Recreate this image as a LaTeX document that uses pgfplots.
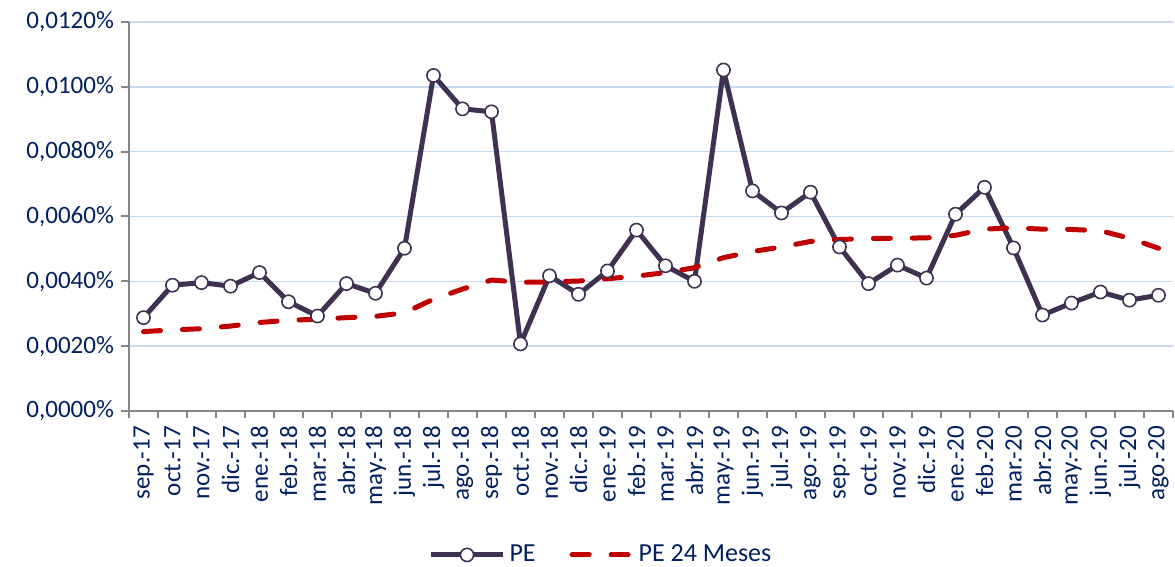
\documentclass[border=0pt]{standalone}
\usepackage{pgfplots}
\pgfplotsset{compat=1.18}
\usepackage{fontspec}
\setmainfont{Carlito}
\definecolor{peline}{RGB}{63,49,81}
\definecolor{pered}{RGB}{192,0,0}
\definecolor{navy}{RGB}{0,32,96}
\definecolor{gridblue}{RGB}{197,217,241}
\definecolor{axgray}{RGB}{134,134,134}

\pgfplotstableread{
x pe
0 0.00288
1 0.00388
2 0.00396
3 0.00385
4 0.00427
5 0.00337
6 0.00293
7 0.00393
8 0.00363
9 0.00502
10 0.01035
11 0.00932
12 0.00923
13 0.00207
14 0.00417
15 0.00360
16 0.00432
17 0.00558
18 0.00448
19 0.00400
20 0.01052
21 0.00679
22 0.00611
23 0.00675
24 0.00506
25 0.00393
26 0.00450
27 0.00410
28 0.00607
29 0.00690
30 0.00503
31 0.00296
32 0.00333
33 0.00367
34 0.00342
35 0.00357
}\petable

\pgfplotstableread{
x pe24
0 0.00245
1 0.00250
2 0.00254
3 0.00262
4 0.00273
5 0.00280
6 0.00283
7 0.00288
8 0.00292
9 0.00303
10 0.00345
11 0.00376
12 0.00404
13 0.00397
14 0.00398
15 0.00401
16 0.00408
17 0.00416
18 0.00427
19 0.00442
20 0.00473
21 0.00492
22 0.00506
23 0.00523
24 0.00529
25 0.00532
26 0.00533
27 0.00534
28 0.00542
29 0.00561
30 0.00565
31 0.00561
32 0.00560
33 0.00556
34 0.00533
35 0.00502
}\pettable

\begin{document}
\begin{tikzpicture}
\useasboundingbox (-64.5pt,-78pt) rectangle (523pt,205.5pt);
\begin{axis}[
  at={(0pt,0pt)}, anchor=south west,
  scale only axis, width=522pt, height=194.5pt,
  xmin=-0.5, xmax=35.5, ymin=0, ymax=0.012,
  scaled y ticks=false,
  axis x line*=bottom, axis y line*=left,
  axis line style={axgray, line width=1pt},
  tick align=outside,
  tick style={axgray, line width=1pt},
  major tick length=4pt, minor tick length=3.5pt,
  major x tick style={draw=none},
  xtick={0,...,35},
  minor xtick={-0.5,0.5,...,35.5},
  xticklabels={sep.-17,oct.-17,nov.-17,dic.-17,ene.-18,feb.-18,mar.-18,abr.-18,may.-18,jun.-18,jul.-18,ago.-18,sep.-18,oct.-18,nov.-18,dic.-18,ene.-19,feb.-19,mar.-19,abr.-19,may.-19,jun.-19,jul.-19,ago.-19,sep.-19,oct.-19,nov.-19,dic.-19,ene.-20,feb.-20,mar.-20,abr.-20,may.-20,jun.-20,jul.-20,ago.-20},
  ytick={0,0.002,0.004,0.006,0.008,0.010,0.012},
  yticklabels={{0,0000\%},{0,0020\%},{0,0040\%},{0,0060\%},{0,0080\%},{0,0100\%},{0,0120\%}},
  ticklabel style={font=\fontsize{12.5}{15}\selectfont, text=navy},
  xticklabel style={rotate=90, anchor=east},
  ymajorgrids, grid style={gridblue, line width=0.8pt},
  legend style={at={(0.453,-0.37)}, anchor=center, draw=none, fill=none,
    legend columns=2, font=\fontsize{13}{15}\selectfont, text=navy,
    /tikz/every even column/.append style={column sep=15pt}},
  legend cell align=left,
]
\addplot[peline, line width=2.5pt, line join=round, mark=*, mark size=3.3pt,
  mark options={fill=white, draw=peline, line width=0.8pt},
  legend image code/.code={\draw[mark repeat=2,mark phase=2] plot coordinates {(0pt,0pt) (18pt,0pt) (36pt,0pt)};}]
  table[x=x,y=pe]{\petable};
\addlegendentry{PE}
\addplot[pered, line width=2.5pt, line cap=round, line join=round, dash pattern=on 8.5pt off 11pt, mark=none,
  legend image code/.code={\draw (0pt,0pt) -- (30pt,0pt);}]
  table[x=x,y=pe24]{\pettable};
\addlegendentry{PE 24 Meses}
\end{axis}
\end{tikzpicture}
\end{document}
